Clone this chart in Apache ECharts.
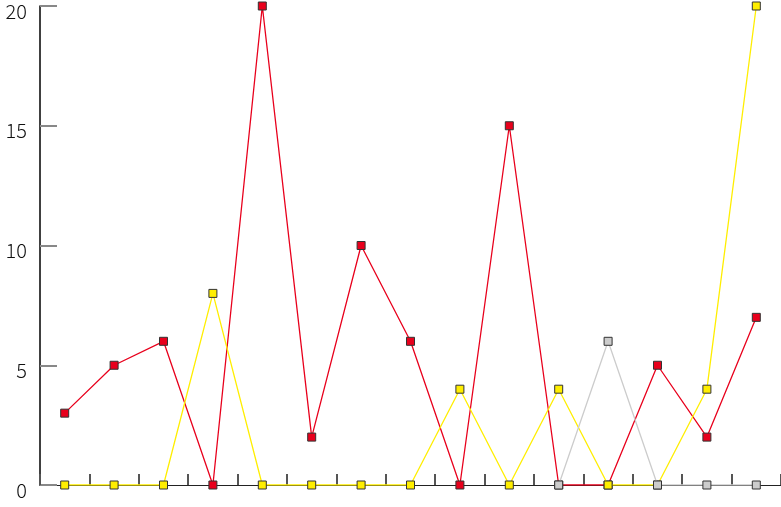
<!DOCTYPE html>
<html><head><meta charset="utf-8">
<script src="https://cdn.jsdelivr.net/npm/echarts@6/dist/echarts.min.js"></script>
<style>html,body{margin:0;padding:0;background:#fff}#c{width:781px;height:507px}</style>
</head><body><div id="c"></div>
<script>
const categories = ['1','2','3','4','5','6','7','8','9','10','11','12','13','14','15'];
const redValues = [3,5,6,0,20,2,10,6,0,15,0,0,5,2,7];
const yellowValues = [0,0,0,8,0,0,0,0,4,0,4,0,0,4,20];
const grayValues = [null,null,null,null,null,null,null,null,null,null,0,6,0,0,0];
const yTicks = [0,5,10,15,20];

function mk(name, data, color, z) {
  return {
    name, type: 'line', data, z,
    symbol: 'rect', symbolSize: 8,
    lineStyle: { color, width: 1.3 },
    itemStyle: { color, borderColor: '#333', borderWidth: 1 },
    animation: false
  };
}
const chart = echarts.init(document.getElementById('c'));
chart.setOption({
  animation: false,
  grid: { left: 40, right: 0, top: 6, bottom: 22, containLabel: false, outerBoundsMode: 'none' },
  xAxis: {
    type: 'category', data: categories, boundaryGap: true, z: 0,
    axisLine: { lineStyle: { color: '#222', width: 1 } },
    axisTick: { show: true, inside: true, length: 11, lineStyle: { color: '#555', width: 2 } },
    axisLabel: { show: false }
  },
  yAxis: {
    type: 'value', min: yTicks[0], max: yTicks[yTicks.length-1], interval: 5,
    splitLine: { show: false },
    axisLine: { show: true, lineStyle: { color: '#000', width: 1.5 } },
    axisTick: { show: true, inside: true, length: 17, lineStyle: { color: '#888', width: 2 } },
    axisLabel: { fontSize: 20, color: '#111', margin: 13, verticalAlign: 'top', lineHeight: 10,
                 fontFamily: 'Noto Sans CJK JP', fontWeight: 300 }
  },
  series: [
    mk('red', redValues, '#e8001c', 2),
    mk('yellow', yellowValues, '#ffee00', 3),
    mk('gray', grayValues, '#cccccc', 4)
  ]
});
</script></body></html>
